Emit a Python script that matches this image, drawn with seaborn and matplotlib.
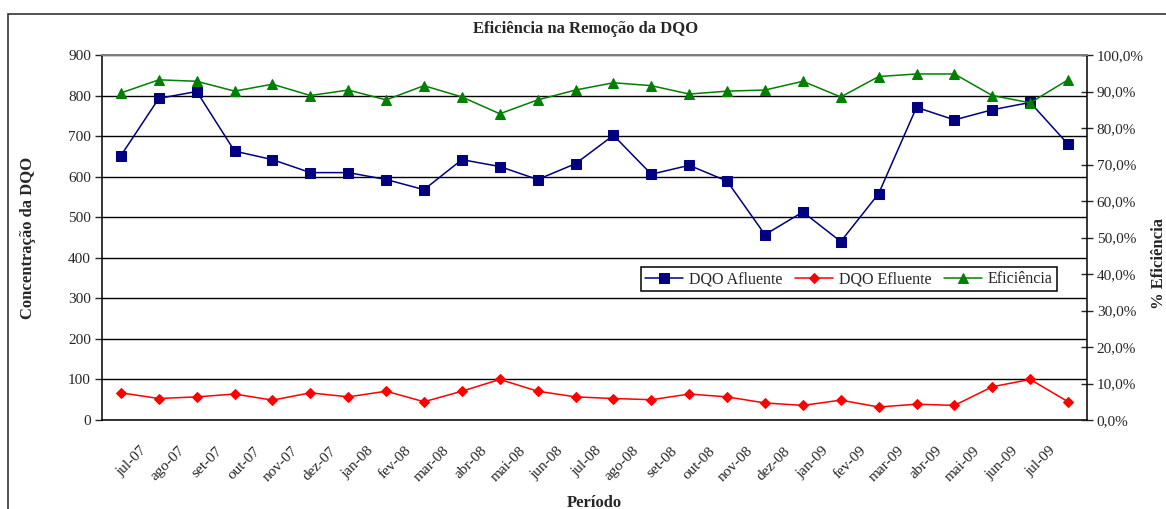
import numpy as np
import pandas as pd
import seaborn as sns
import matplotlib
matplotlib.use('Agg')
from matplotlib import pyplot as plt
from matplotlib.patches import Rectangle

# dados mensais (jun-07 a jul-09)
meses = ['jun-07', 'jul-07', 'ago-07', 'set-07', 'out-07', 'nov-07', 'dez-07',
         'jan-08', 'fev-08', 'mar-08', 'abr-08', 'mai-08', 'jun-08', 'jul-08',
         'ago-08', 'set-08', 'out-08', 'nov-08', 'dez-08', 'jan-09', 'fev-09',
         'mar-09', 'abr-09', 'mai-09', 'jun-09', 'jul-09']
afluente = [652, 793, 810, 663, 642, 610, 610, 593, 568, 642, 625, 593, 632,
            702, 606, 628, 589, 457, 513, 440, 558, 771, 740, 765, 783, 680]
efluente = [67, 53, 57, 64, 49, 67, 57, 71, 45, 71, 100, 71, 57,
            53, 50, 64, 57, 42, 36, 49, 32, 39, 36, 82, 100, 45]
eficiencia = [89.6, 93.2, 92.8, 90.1, 92.0, 88.9, 90.4, 87.7, 91.6, 88.5, 83.9,
              87.7, 90.4, 92.4, 91.6, 89.3, 90.1, 90.4, 92.8, 88.5, 94.1, 94.8,
              94.8, 88.9, 86.9, 93.2]

rotulos_x = ['jul-07', 'ago-07', 'set-07', 'out-07', 'nov-07', 'dez-07',
             'jan-08', 'fev-08', 'mar-08', 'abr-08', 'mai-08', 'jun-08', 'jul-08',
             'ago-08', 'set-08', 'out-08', 'nov-08', 'dez-08', 'jan-09', 'fev-09',
             'mar-09', 'abr-09', 'mai-09', 'jun-09', 'jul-09']
ticks_esq = [0, 100, 200, 300, 400, 500, 600, 700, 800, 900]
ticks_dir = [0, 10, 20, 30, 40, 50, 60, 70, 80, 90, 100]

df = pd.DataFrame({'mes': meses, 'afluente': afluente,
                   'efluente': efluente, 'eficiencia': eficiencia})
df['pos'] = np.arange(len(df)) + 0.5

sns.set_style('white')
plt.rcParams['font.family'] = ['Liberation Serif', 'DejaVu Serif']

W, H = 1166, 509
fig = plt.figure(figsize=(W / 100, H / 100), dpi=100)
ax = fig.add_axes([102 / W, 1 - 420 / H, 985 / W, 365 / H])
ax2 = ax.twinx()

sns.lineplot(data=df, x='pos', y='afluente', ax=ax, color='#000080', marker='s',
             markersize=6.5, markeredgecolor='#000080', linewidth=1.1, label='DQO Afluente')
sns.lineplot(data=df, x='pos', y='efluente', ax=ax, color='#FF0000', marker='D',
             markersize=5.5, markeredgecolor='#FF0000', linewidth=1.1, label='DQO Efluente')
sns.lineplot(data=df, x='pos', y='eficiencia', ax=ax2, color='#008000', marker='^',
             markersize=7.5, markeredgecolor='#008000', linewidth=1.1, label='Eficiência')

for a in (ax, ax2):
    if a.get_legend() is not None:
        a.get_legend().remove()

# eixo x
ax.set_xlim(0, len(df))
ax.set_xticks(np.arange(len(df) + 1))
ax.set_xticklabels([''] + rotulos_x + [''])
ax.tick_params(axis='x', direction='inout', length=7, width=1, pad=14, labelsize=11)
for lbl in ax.get_xticklabels():
    lbl.set_rotation(45)
    lbl.set_ha('right')
    lbl.set_va('top')
    lbl.set_rotation_mode('anchor')

# eixo esquerdo
ax.set_ylim(0, 900)
ax.set_yticks(ticks_esq)
ax.tick_params(axis='y', direction='out', length=5, width=1, pad=3, labelsize=11)
ax.grid(axis='y', color='black', linewidth=1)
ax.set_axisbelow(True)

# eixo direito
ax2.set_ylim(0, 100)
ax2.set_yticks(ticks_dir)
ax2.set_yticklabels([f'{v:.1f}%'.replace('.', ',') for v in ticks_dir])
ax2.tick_params(axis='y', direction='inout', length=8, width=1, pad=3, labelsize=11)

for s in ['left', 'bottom']:
    ax.spines[s].set_color('black')
    ax.spines[s].set_linewidth(1.1)
ax.spines['right'].set_visible(False)
ax.spines['top'].set_color('#808080')
ax.spines['top'].set_linewidth(1.3)
ax2.spines['left'].set_visible(False)
ax2.spines['bottom'].set_visible(False)
ax2.spines['top'].set_color('#808080')
ax2.spines['top'].set_linewidth(1.3)
ax2.spines['right'].set_color('black')
ax2.spines['right'].set_linewidth(1.1)

ax.set_xlabel('Período', fontweight='bold', fontsize=12)
ax.xaxis.set_label_coords(0.5, -0.205)
ax.set_ylabel('Concentração da DQO', fontweight='bold', fontsize=12)
ax.yaxis.set_label_coords(-0.067, 0.5)
ax2.set_ylabel('% Eficiência', fontweight='bold', fontsize=12)
ax2.yaxis.set_label_coords(1.065, 0.43)

h1, l1 = ax.get_legend_handles_labels()
h2, l2 = ax2.get_legend_handles_labels()
leg = ax2.legend(h1 + h2, l1 + l2, loc='upper right', bbox_to_anchor=(0.9695, 0.418),
                 ncol=3, fontsize=11.5, frameon=True, fancybox=False, framealpha=1,
                 edgecolor='black', handlelength=2.4, handletextpad=0.35,
                 columnspacing=0.8, borderpad=0.25, borderaxespad=0)
leg.get_frame().set_linewidth(1.1)

fig.text(586 / W, 1 - 29 / H, 'Eficiência na Remoção da DQO', ha='center', va='center',
         fontweight='bold', fontsize=12)

fig.add_artist(Rectangle((8 / W, -0.05), 1.2, 1 - 14 / H + 0.05, transform=fig.transFigure,
                         fill=False, edgecolor='#333333', linewidth=1.2))

fig.savefig('out.png', dpi=100)
